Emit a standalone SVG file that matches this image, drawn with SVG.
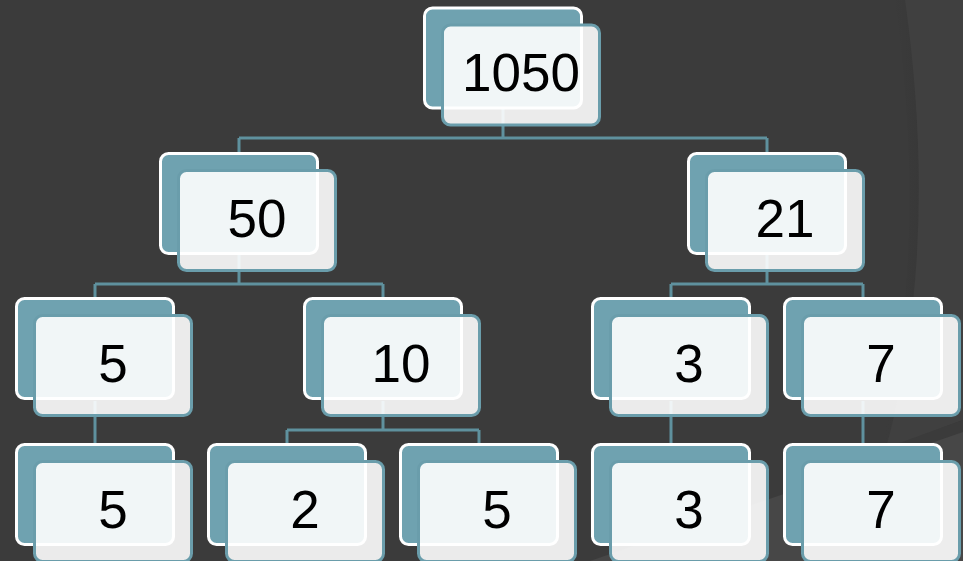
<svg xmlns="http://www.w3.org/2000/svg" width="963" height="561" viewBox="0 0 963 561">
<defs>
<linearGradient id="sh" x1="0" y1="0" x2="1" y2="0">
<stop offset="0" stop-color="#3b3b3b" stop-opacity="0"/>
<stop offset="1" stop-color="#2e2e2e" stop-opacity="0.9"/>
</linearGradient>
</defs>
<style>
.back{fill:#6fa2b0;stroke:#ffffff;stroke-width:3}
.front{fill:#ffffff;fill-opacity:0.9;stroke:#6a9dab;stroke-width:3}
.lbl{font-family:"Liberation Sans",Arial,sans-serif;font-size:53px;fill:#000;text-anchor:middle}
.con{fill:none;stroke:#5f919e;stroke-width:3}
</style>
<rect width="963" height="561" fill="#3b3b3b"/>
<path d="M895,0 Q930,250 880,450 L963,420 L963,0 Z" fill="url(#sh)"/>
<path d="M905,0 Q940,250 886,448 L963,420 L963,0 Z" fill="#404040"/>
<path d="M590,561 L963,432 L963,561 Z" fill="#474747"/>
<g id="connectors" class="con">
<path d="M503,109 V138 M239,138 H767 M239,138 V152 M767,138 V152"/>
<path d="M239,255 V284 M95,284 H383 M95,284 V297 M383,284 V297"/>
<path d="M767,255 V284 M671,284 H863 M671,284 V297 M863,284 V297"/>
<path d="M95,401 V443"/>
<path d="M383,401 V430 M287,430 H479 M287,430 V443 M479,430 V443"/>
<path d="M671,401 V443"/>
<path d="M863,401 V443"/>
</g>
<g id="n1050" transform="translate(503,6.5)"><rect class="back" x="-78.5" y="1.5" width="157" height="100" rx="8"/><rect class="front" x="-60.5" y="18.5" width="157" height="100" rx="8"/><text class="lbl" x="18" y="84.5">1050</text></g>
<g id="n50" transform="translate(239,152)"><rect class="back" x="-78.5" y="1.5" width="157" height="100" rx="8"/><rect class="front" x="-60.5" y="18.5" width="157" height="100" rx="8"/><text class="lbl" x="18" y="84.5">50</text></g>
<g id="n21" transform="translate(767,152)"><rect class="back" x="-78.5" y="1.5" width="157" height="100" rx="8"/><rect class="front" x="-60.5" y="18.5" width="157" height="100" rx="8"/><text class="lbl" x="18" y="84.5">21</text></g>
<g id="n5a" transform="translate(95,297)"><rect class="back" x="-78.5" y="1.5" width="157" height="100" rx="8"/><rect class="front" x="-60.5" y="18.5" width="157" height="100" rx="8"/><text class="lbl" x="18" y="84.5">5</text></g>
<g id="n10" transform="translate(383,297)"><rect class="back" x="-78.5" y="1.5" width="157" height="100" rx="8"/><rect class="front" x="-60.5" y="18.5" width="157" height="100" rx="8"/><text class="lbl" x="18" y="84.5">10</text></g>
<g id="n3a" transform="translate(671,297)"><rect class="back" x="-78.5" y="1.5" width="157" height="100" rx="8"/><rect class="front" x="-60.5" y="18.5" width="157" height="100" rx="8"/><text class="lbl" x="18" y="84.5">3</text></g>
<g id="n7a" transform="translate(863,297)"><rect class="back" x="-78.5" y="1.5" width="157" height="100" rx="8"/><rect class="front" x="-60.5" y="18.5" width="157" height="100" rx="8"/><text class="lbl" x="18" y="84.5">7</text></g>
<g id="n5b" transform="translate(95,443)"><rect class="back" x="-78.5" y="1.5" width="157" height="100" rx="8"/><rect class="front" x="-60.5" y="18.5" width="157" height="100" rx="8"/><text class="lbl" x="18" y="84.5">5</text></g>
<g id="n2" transform="translate(287,443)"><rect class="back" x="-78.5" y="1.5" width="157" height="100" rx="8"/><rect class="front" x="-60.5" y="18.5" width="157" height="100" rx="8"/><text class="lbl" x="18" y="84.5">2</text></g>
<g id="n5c" transform="translate(479,443)"><rect class="back" x="-78.5" y="1.5" width="157" height="100" rx="8"/><rect class="front" x="-60.5" y="18.5" width="157" height="100" rx="8"/><text class="lbl" x="18" y="84.5">5</text></g>
<g id="n3b" transform="translate(671,443)"><rect class="back" x="-78.5" y="1.5" width="157" height="100" rx="8"/><rect class="front" x="-60.5" y="18.5" width="157" height="100" rx="8"/><text class="lbl" x="18" y="84.5">3</text></g>
<g id="n7b" transform="translate(863,443)"><rect class="back" x="-78.5" y="1.5" width="157" height="100" rx="8"/><rect class="front" x="-60.5" y="18.5" width="157" height="100" rx="8"/><text class="lbl" x="18" y="84.5">7</text></g>
</svg>
